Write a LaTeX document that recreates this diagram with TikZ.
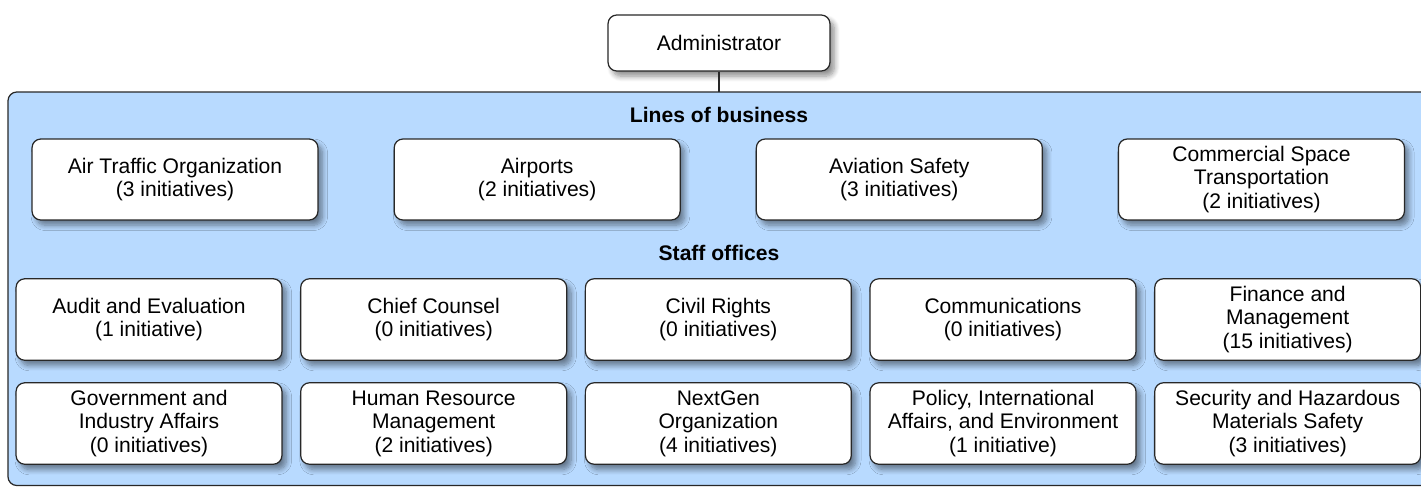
\documentclass[tikz,border=0pt]{standalone}
\usepackage{fontspec}
\setmainfont{Liberation Sans}
\usepackage{tikz}
\usetikzlibrary{positioning,shadows.blur}
\definecolor{orgband}{RGB}{184,218,255}
\definecolor{orgline}{RGB}{40,40,40}

\begin{document}
\begin{tikzpicture}[x=0.02cm, y=-0.02cm,
    office/.style={rectangle, draw=orgline, fill=white, line width=0.7pt,
        rounded corners=5pt, align=center,
        font=\fontsize{12}{13.4}\selectfont,
        blur shadow={shadow xshift=2.5pt, shadow yshift=-3pt,
            shadow blur steps=8, shadow blur radius=3pt, shadow opacity=45}},
    lob/.style={office, minimum width=5.72cm, minimum height=1.62cm},
    staff/.style={office, minimum width=5.32cm, minimum height=1.63cm},
    heading/.style={font=\fontsize{12}{13.4}\selectfont\bfseries},
    link/.style={draw=orgline, line width=1.5pt}]
\useasboundingbox (0,0) rectangle (1421,487);
\begin{scope}
\clip (0,0) rectangle (1421,487);
\draw[fill=orgband, draw=orgline, line width=0.7pt, rounded corners=5pt]
    (8,92) rectangle (1460,485.5);
\end{scope}

\node[office, minimum width=4.44cm, minimum height=1.12cm] (admin) at (719,43) {Administrator};
\coordinate (band) at (719,92);
\draw[link] (admin.south) -- (band);

% lines of business
\node[heading] (lobhead) at (719,115) {Lines of business};
\node[lob] (ato) at (175,179.5) {Air Traffic Organization\\(3 initiatives)};
\node[lob, right=1.50cm of ato]  (arp) {Airports\\(2 initiatives)};
\node[lob, right=1.50cm of arp]  (avs) {Aviation Safety\\(3 initiatives)};
\node[lob, right=1.50cm of avs]  (ast) {Commercial Space\\Transportation\\(2 initiatives)};

% staff offices
\node[heading] (staffhead) at (719,253) {Staff offices};
\node[staff] (aae) at (149,319.5) {Audit and Evaluation\\(1 initiative)};
\node[staff, right=0.35cm of aae] (agc) {Chief Counsel\\(0 initiatives)};
\node[staff, right=0.35cm of agc] (acr) {Civil Rights\\(0 initiatives)};
\node[staff, right=0.35cm of acr] (aoc) {Communications\\(0 initiatives)};
\node[staff, right=0.35cm of aoc] (abafm) {Finance and\\Management\\(15 initiatives)};

\node[staff] (agi) at (149,423.5) {Government and\\Industry Affairs\\(0 initiatives)};
\node[staff, right=0.35cm of agi] (ahr) {Human Resource\\Management\\(2 initiatives)};
\node[staff, right=0.35cm of ahr] (ang) {NextGen\\Organization\\(4 initiatives)};
\node[staff, right=0.35cm of ang] (apl) {Policy, International\\Affairs, and Environment\\(1 initiative)};
\node[staff, right=0.35cm of apl] (ash) {Security and Hazardous\\Materials Safety\\(3 initiatives)};
\end{tikzpicture}
\end{document}
